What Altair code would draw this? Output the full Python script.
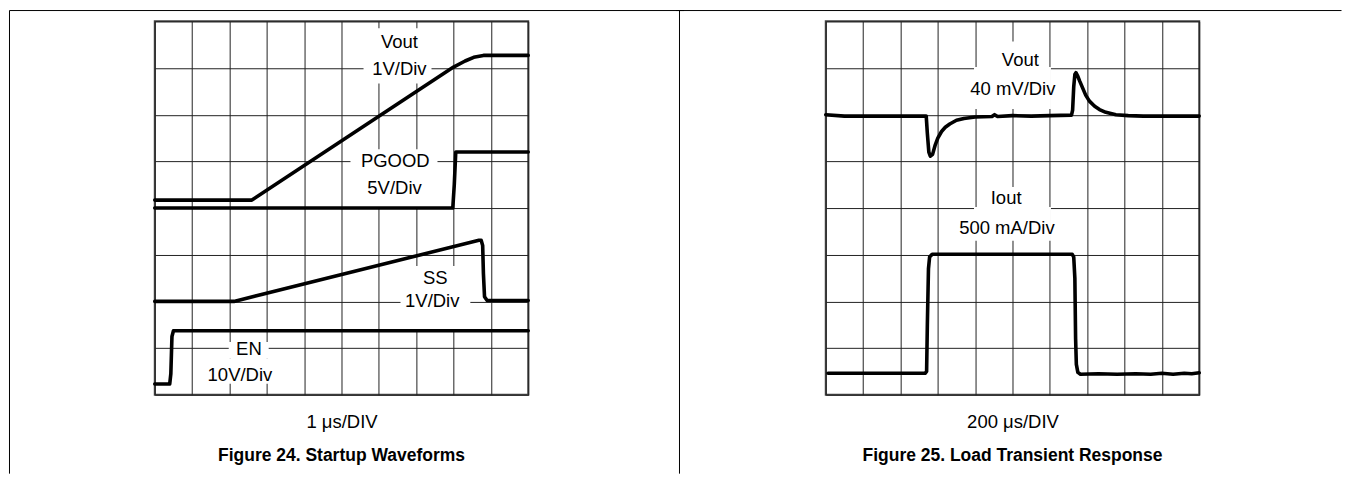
import altair as alt
import pandas as pd

FONT = "Liberation Sans, Arial, Helvetica, sans-serif"

# ---------------- Figure 24: Startup waveforms (units = divisions) ----------------
vout24_x = [0, 2.6, 8.0, 8.31, 8.54, 8.8, 10]
vout24_y = [4.17, 4.17, 7.02, 7.15, 7.23, 7.27, 7.27]
pgood_x = [0, 7.98, 8.02, 8.06, 10]
pgood_y = [4.0, 4.0, 4.5, 5.2, 5.2]
ss_x = [0, 2.12, 8.68, 8.74, 8.78, 8.8, 8.83, 8.9, 10]
ss_y = [2.0, 2.0, 3.31, 3.31, 3.2, 2.6, 2.1, 2.02, 2.02]
en_x = [0, 0.4, 0.43, 0.46, 0.5, 10]
en_y = [0.23, 0.23, 0.45, 1.25, 1.37, 1.37]

labels24 = ["Vout", "1V/Div", "PGOOD", "5V/Div", "SS", "1V/Div", "EN", "10V/Div"]
labels24_x = [6.55, 6.55, 6.44, 6.42, 7.51, 7.43, 2.52, 2.28]
labels24_y = [7.56, 6.97, 5.0, 4.44, 2.51, 2.01, 0.98, 0.43]

# white label backgrounds that interrupt the graticule
box24_x1 = [5.59, 5.24, 6.58, 1.98, 1.31]
box24_x2 = [7.41, 7.57, 8.45, 3.05, 3.24]
box24_y1 = [7.85, 5.26, 2.76, 1.13, 0.77]
box24_y2 = [6.67, 4.02, 1.39, 0.77, 0.235]

# ---------------- Figure 25: Load transient response ----------------
vout25_x = [0, 0.5, 2.69, 2.72, 2.76, 2.8, 2.86, 2.93, 3.0, 3.1, 3.2, 3.32, 3.5, 3.7,
            4.0, 4.45, 4.52, 4.6, 5.0, 5.5, 6.0, 6.58, 6.61, 6.64, 6.67, 6.70, 6.74,
            6.8, 6.88, 6.96, 7.06, 7.2, 7.33, 7.5, 7.77, 8.1, 8.5, 10]
vout25_y = [6.0, 5.97, 5.97, 5.6, 5.2, 5.11, 5.15, 5.35, 5.5, 5.64, 5.73, 5.8, 5.88, 5.92,
            5.95, 5.96, 6.0, 5.96, 5.98, 5.97, 5.98, 5.99, 6.1, 6.6, 6.86, 6.9, 6.84,
            6.72, 6.57, 6.42, 6.29, 6.18, 6.11, 6.05, 6.0, 5.98, 5.97, 5.97]
iout_x = [0.06, 2.66, 2.70, 2.72, 2.75, 2.78, 2.85, 6.6, 6.64, 6.67, 6.69, 6.71, 6.75,
          6.82, 7.3, 7.8, 8.3, 8.7, 9.0, 9.3, 9.6, 9.8, 10.0]
iout_y = [0.46, 0.46, 0.5, 1.5, 2.7, 2.95, 3.01, 3.01, 2.95, 2.5, 1.2, 0.65, 0.48,
          0.44, 0.45, 0.44, 0.45, 0.44, 0.46, 0.44, 0.46, 0.45, 0.47]

labels25 = ["Vout", "40 mV/Div", "Iout", "500 mA/Div"]
labels25_x = [5.21, 5.01, 4.83, 4.85]
labels25_y = [7.18, 6.54, 4.21, 3.58]

box25_x1 = [4.39, 3.97, 4.3, 3.97]
box25_x2 = [5.72, 6.03, 5.6, 6.03]
box25_y1 = [7.57, 7.02, 4.45, 4.02]
box25_y2 = [7.0, 6.12, 3.98, 3.3]

GRID_COLS = list(range(11))
GRID_ROWS = list(range(9))


def xenc(field, title):
    return alt.X(
        field,
        scale=alt.Scale(domain=[0, 10], nice=False, zero=False),
        axis=alt.Axis(values=GRID_COLS, grid=True, labels=False, ticks=False, domain=False,
                      title=title, titleFont=FONT, titleFontSize=18.5,
                      titleFontWeight="normal", titleColor="black", titlePadding=18,
                      gridColor="#222", gridOpacity=1, gridWidth=1),
    )


def yenc(field):
    return alt.Y(
        field,
        scale=alt.Scale(domain=[0, 8], nice=False, zero=False),
        axis=alt.Axis(values=GRID_ROWS, grid=True, labels=False, ticks=False, domain=False,
                      title=None, gridColor="#222", gridOpacity=1, gridWidth=1),
    )


def panel(series, labels, lx, ly, bx1, bx2, by1, by2, axis_title, caption, left):
    rows = []
    for name, xs, ys in series:
        for i, (a, b) in enumerate(zip(xs, ys)):
            rows.append({"series": name, "x": a, "y": b, "order": i})
    tdf = pd.DataFrame(rows)
    bdf = pd.DataFrame({"x1": bx1, "x2": bx2, "y1": by1, "y2": by2})
    ldf = pd.DataFrame({"label": labels, "x": lx, "y": ly})
    cdf = pd.DataFrame({"caption": [caption], "x": [5]})

    boxes = alt.Chart(bdf).mark_rect(color="white", opacity=1).encode(
        x=xenc("x1:Q", axis_title), x2="x2:Q", y=yenc("y1:Q"), y2="y2:Q")
    text = alt.Chart(ldf).mark_text(font=FONT, fontSize=18.5, color="black",
                                    align="center", baseline="middle").encode(
        x=xenc("x:Q", axis_title), y=yenc("y:Q"), text="label:N")
    lines = alt.Chart(tdf).mark_line(color="black", strokeWidth=3.6, strokeJoin="round",
                                     strokeCap="round").encode(
        x=xenc("x:Q", axis_title), y=yenc("y:Q"), detail="series:N", order="order:Q")
    cap = alt.Chart(cdf).mark_text(font=FONT, fontSize=17.5, fontWeight="bold", color="black",
                                   align="center", baseline="middle").encode(
        x=xenc("x:Q", axis_title), y=alt.value(435), text="caption:N")

    layers = [boxes, text, lines, cap]
    if left:
        top = alt.Chart(cdf).mark_rule(color="black", strokeWidth=1).encode(
            x=alt.value(-145.5), x2=alt.value(530), y=alt.value(-10.8))
        lft = alt.Chart(cdf).mark_rule(color="black", strokeWidth=1).encode(
            x=alt.value(-145.5), y=alt.value(-10.8), y2=alt.value(453))
        sep = alt.Chart(cdf).mark_rule(color="black", strokeWidth=1).encode(
            x=alt.value(525.5), y=alt.value(-10.8), y2=alt.value(453))
        layers += [top, lft, sep]
    else:
        top = alt.Chart(cdf).mark_rule(color="black", strokeWidth=1).encode(
            x=alt.value(-150), x2=alt.value(516.5), y=alt.value(-10.8))
        layers += [top]
    return alt.layer(*layers).properties(width=374, height=374)


p24 = panel([("Vout", vout24_x, vout24_y), ("PGOOD", pgood_x, pgood_y),
             ("SS", ss_x, ss_y), ("EN", en_x, en_y)],
            labels24, labels24_x, labels24_y, box24_x1, box24_x2, box24_y1, box24_y2,
            "1 \u03bcs/DIV", "Figure 24. Startup Waveforms", True)
p25 = panel([("Vout", vout25_x, vout25_y), ("Iout", iout_x, iout_y)],
            labels25, labels25_x, labels25_y, box25_x1, box25_x2, box25_y1, box25_y2,
            "200 \u03bcs/DIV", "Figure 25. Load Transient Response", False)

chart = alt.hconcat(p24, p25, spacing=298, bounds="flush").properties(
    padding=0, background="white"
).configure_view(stroke="#444", strokeWidth=2)

chart.save("out.html", embed_options={"renderer": "svg", "actions": False})
